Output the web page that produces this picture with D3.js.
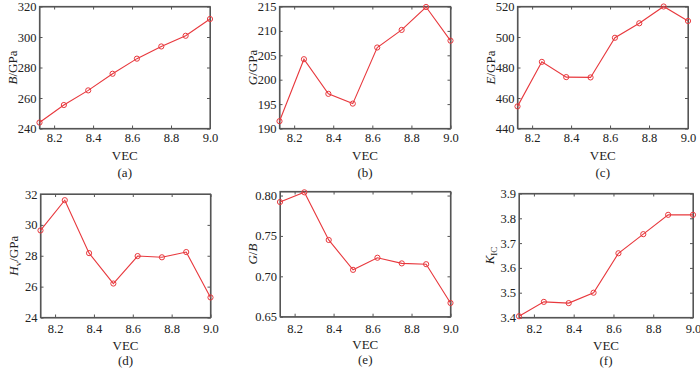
<!DOCTYPE html>
<html>
<head>
<meta charset="utf-8">
<script src="https://cdn.jsdelivr.net/npm/d3@7"></script>
<style>
body { margin: 0; background: #fff; }
svg { display: block; }
.axis path, .axis line { stroke: #555; }
</style>
</head>
<body>
<svg id="chart" width="700" height="368" font-family="'Liberation Serif', 'Times New Roman', Times, serif"></svg>
<script>
// VEC values along x (shared by all panels)
var vec = [8.125, 8.25, 8.375, 8.5, 8.625, 8.75, 8.875, 9.0];
var xTicks = [8.2, 8.4, 8.6, 8.8, 9.0];

// series
var bulk  = [243.9, 255.4, 265.0, 275.9, 285.8, 293.8, 300.8, 311.8];
var shear = [191.5, 204.2, 197.1, 195.1, 206.6, 210.2, 214.9, 208.0];
var young = [454.5, 483.7, 473.7, 473.5, 499.5, 509.0, 520.0, 510.5];
var hv    = [29.64, 31.6, 28.17, 26.2, 27.98, 27.9, 28.24, 25.3];
var gb    = [0.792, 0.804, 0.745, 0.708, 0.723, 0.716, 0.715, 0.667];
var kic   = [3.405, 3.463, 3.458, 3.50, 3.659, 3.736, 3.814, 3.814];

// y tick labels
var bTicks  = [240, 260, 280, 300, 320];
var gTicks  = [190, 195, 200, 205, 210, 215];
var eTicks  = [440, 460, 480, 500, 520];
var hvTicks = [24, 26, 28, 30, 32];
var gbTicks = [0.65, 0.70, 0.75, 0.80];
var kTicks  = [3.4, 3.5, 3.6, 3.7, 3.8, 3.9];

var svg = d3.select("#chart");
var serif = "'Liberation Serif', 'Times New Roman', Times, serif";
var lineColor = "#e8383d";

// box = [left, top, right, bottom], off = [x tick pad, VEC baseline, tag baseline, ylabel baseline]
var drawPanel = function(box, off, values, yDomain, yTicks, yFmt, yLabel, tag){
	var width = box[2] - box[0];
	var height = box[3] - box[1];
	var g = svg.append("g").attr("transform", "translate(" + box[0] + "," + box[1] + ")");

	var xScale = d3.scaleLinear().domain([8.125, 9.0]).range([0, width]);
	var yScale = d3.scaleLinear().domain(yDomain).range([height, 0]);

	// bottom / left with labels, top / right just ticks (all ticks point inward)
	var axes = [
		g.append("g").attr("transform", "translate(0," + height + ")")
			.call(d3.axisBottom(xScale).tickValues(xTicks).tickFormat(d3.format(".1f"))
				.tickSizeInner(-3).tickSizeOuter(0).tickPadding(off[0])),
		g.append("g")
			.call(d3.axisTop(xScale).tickValues(xTicks).tickFormat("")
				.tickSizeInner(-3).tickSizeOuter(0)),
		g.append("g")
			.call(d3.axisLeft(yScale).tickValues(yTicks).tickFormat(d3.format(yFmt))
				.tickSizeInner(-3).tickSizeOuter(0).tickPadding(3)),
		g.append("g").attr("transform", "translate(" + width + ",0)")
			.call(d3.axisRight(yScale).tickValues(yTicks).tickFormat("")
				.tickSizeInner(-3).tickSizeOuter(0))
	];
	axes.forEach(function(a){
		a.attr("class", "axis").attr("font-family", serif).attr("font-size", 12.5);
		a.selectAll("text").attr("fill", "#222");
	});

	g.append("rect")
		.attr("width", width).attr("height", height)
		.attr("fill", "none").attr("stroke", "#555").attr("stroke-width", 1.2);

	var pts = vec.map(function(v, i){ return {x: v, y: values[i]}; });
	var line = d3.line()
		.x(function(d){ return xScale(d.x); })
		.y(function(d){ return yScale(d.y); });

	g.append("path")
		.attr("d", line(pts))
		.attr("fill", "none").attr("stroke", lineColor).attr("stroke-width", 1.1);

	g.selectAll("circle.pt")
		.data(pts)
		.enter().append("circle")
		.attr("class", "pt")
		.attr("cx", function(d){ return xScale(d.x); })
		.attr("cy", function(d){ return yScale(d.y); })
		.attr("r", 2.6)
		.attr("fill", "none").attr("stroke", lineColor).attr("stroke-width", 1);

	g.append("text")
		.attr("x", width / 2).attr("y", height + off[1])
		.attr("text-anchor", "middle").attr("font-size", 13).attr("fill", "#222")
		.text("VEC");

	g.append("text")
		.attr("x", width / 2).attr("y", height + off[2])
		.attr("text-anchor", "middle").attr("font-size", 13).attr("fill", "#222")
		.text(tag);

	// rotated y label built from tspans (italic symbol, optional subscript, unit)
	var yl = g.append("text")
		.attr("transform", "translate(" + off[3] + "," + (height / 2) + ") rotate(-90)")
		.attr("text-anchor", "middle").attr("font-size", 13).attr("fill", "#222");
	yLabel.forEach(function(p){
		var t = yl.append("tspan").text(p.t);
		if(p.i) t.attr("font-style", "italic");
		if(p.sub){ t.attr("font-size", 9).attr("dy", 3); }
		if(p.back) t.attr("dy", -3);
	});
};

var topOff = [5, 31, 48, -23];
var botOff = [7, 32.5, 47.5, -23];

drawPanel([39.5, 6.5, 210, 128.5], topOff, bulk, [240, 320], bTicks, "d",
	[{t: "B", i: true}, {t: "/GPa"}], "(a)");
drawPanel([279.5, 6.5, 450.5, 128.5], topOff, shear, [190, 215], gTicks, "d",
	[{t: "G", i: true}, {t: "/GPa"}], "(b)");
drawPanel([517.5, 6.5, 688, 128.5], topOff, young, [440, 520], eTicks, "d",
	[{t: "E", i: true}, {t: "/GPa"}], "(c)");
drawPanel([40.5, 194, 210.5, 317.5], botOff, hv, [24, 32], hvTicks, "d",
	[{t: "H", i: true}, {t: "v", sub: true}, {t: "/GPa", back: true}], "(d)");
drawPanel([280, 191.5, 450.5, 316.7], botOff, gb, [0.65, 0.805], gbTicks, ".2f",
	[{t: "G", i: true}, {t: "/"}, {t: "B", i: true}], "(e)");
drawPanel([519, 193.5, 693, 317.5], [7, 32.5, 47.5, -25], kic, [3.4, 3.9], kTicks, ".1f",
	[{t: "K", i: true}, {t: "IC", sub: true}], "(f)");
</script>
</body>
</html>
